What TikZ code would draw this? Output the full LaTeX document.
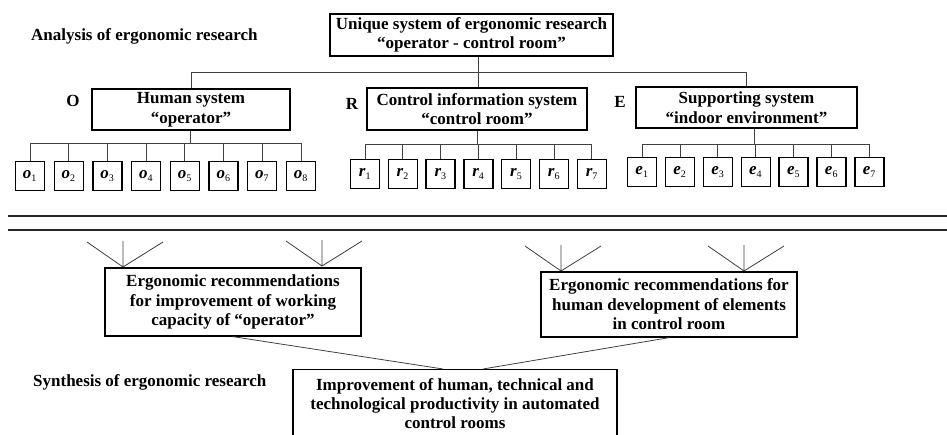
\documentclass[tikz,border=0pt]{standalone}
\usepackage{fontspec}
\setmainfont{Liberation Serif}
\usetikzlibrary{calc}

\tikzset{
  box/.style={draw, line width=1.3pt, align=center, inner sep=0pt,
    font=\bfseries\fontsize{17}{19.5}\selectfont},
  elem/.style={draw, line width=1.3pt, minimum size=29pt, inner sep=0pt,
    font=\bfseries\itshape\fontsize{17}{19.5}\selectfont},
  wire/.style={draw=black!75, line width=0.8pt},
  caption/.style={font=\bfseries\fontsize{17}{19.5}\selectfont, anchor=west, inner sep=0pt}
}
\newcommand{\idx}[1]{\textsubscript{\upshape\mdseries\fontsize{10}{10}\selectfont #1}}

\begin{document}
\begin{tikzpicture}[x=1pt,y=-1pt]
    \useasboundingbox (0,0) rectangle (947,435);
    % analysis part
    \node[caption] (analysis) at (31,36) {Analysis of ergonomic research};
    \node[box, minimum width=283pt, minimum height=42pt] (top) at (471.5,35)
        {Unique system of ergonomic research\\``operator - control room''};
    \node[box, minimum width=198pt, minimum height=41pt] (sysO) at (191,109.5) {Human system\\``operator''};
    \node[box, minimum width=220pt, minimum height=42pt] (sysR) at (477,109) {Control information system\\``control room''};
    \node[box, minimum width=221pt, minimum height=41pt] (sysE) at (746.5,107.5) {Supporting system\\``indoor environment''};
    \node[caption, anchor=center] (lblO) at (73,101) {O};
    \node[caption, anchor=center] (lblR) at (352,104) {R};
    \node[caption, anchor=center] (lblE) at (620,102) {E};
    \foreach \i in {1,...,8}
        \node[elem] (o\i) at ({30+38.7*(\i-1)},176) {o\idx{\i}};
    \foreach \i in {1,...,7}
        \node[elem] (r\i) at ({365+37.8*(\i-1)},174) {r\idx{\i}};
    \foreach \i in {1,...,7}
        \node[elem] (e\i) at ({642+37.9*(\i-1)},172) {e\idx{\i}};

    \coordinate (busTop) at (478,72);
    \coordinate (busO) at (190,143); \coordinate (busR) at (477,144); \coordinate (busE) at (754,144);
    \draw[wire] (top.south -| busTop) -- (busTop);
    \draw[wire] (sysO.north) |- (busTop);
    \draw[wire] (sysR.north -| busTop) -- (busTop);
    \draw[wire] (sysE.north) |- (busTop);
    \draw[wire] (sysO.south -| busO) -- (busO);
    \draw[wire] (sysR.south -| busR) -- (busR);
    \draw[wire] (sysE.south -| busE) -- (busE);
    \foreach \i in {1,...,8} \draw[wire] (o\i.north) |- (busO);
    \foreach \i in {1,...,7} \draw[wire] (r\i.north) |- (busR);
    \foreach \i in {1,...,7} \draw[wire] (e\i.north) |- (busE);

    % border between analysis and synthesis
    \draw[line width=2.6pt, black!85] (8,216) -- (947,216);
    \draw[line width=2.6pt, black!85] (8,230) -- (947,230);

    % synthesis part
    \node[box, minimum width=256pt, minimum height=68pt] (recO) at (233,302)
        {Ergonomic recommendations\\for improvement of working\\capacity of ``operator''};
    \node[box, minimum width=256pt, minimum height=65pt] (recR) at (669,304.5)
        {Ergonomic recommendations for\\human development of elements\\in control room};
    \node[caption] (synthesis) at (33,382) {Synthesis of ergonomic research};
    \node[box, anchor=north, minimum width=324pt, inner ysep=9pt,
          font=\bfseries\fontsize{17}{19}\selectfont] (result) at (455,369)
        {Improvement of human, technical and\\technological productivity in automated\\control rooms};

    \coordinate (fan1) at (123,267); \coordinate (fan2) at (322,266);
    \coordinate (fan3) at (561,271); \coordinate (fan4) at (744,271);
    \foreach \f in {fan1,fan2,fan3,fan4}
        \draw[wire] (\f) -- ++(-36,-25) (\f) -- ++(0,-26) (\f) -- ++(40,-25);
    \draw[wire] (recO.south) -- ([xshift=-12pt]result.north);
    \draw[wire] (recR.south) -- ([xshift=28pt]result.north);
\end{tikzpicture}
\end{document}
